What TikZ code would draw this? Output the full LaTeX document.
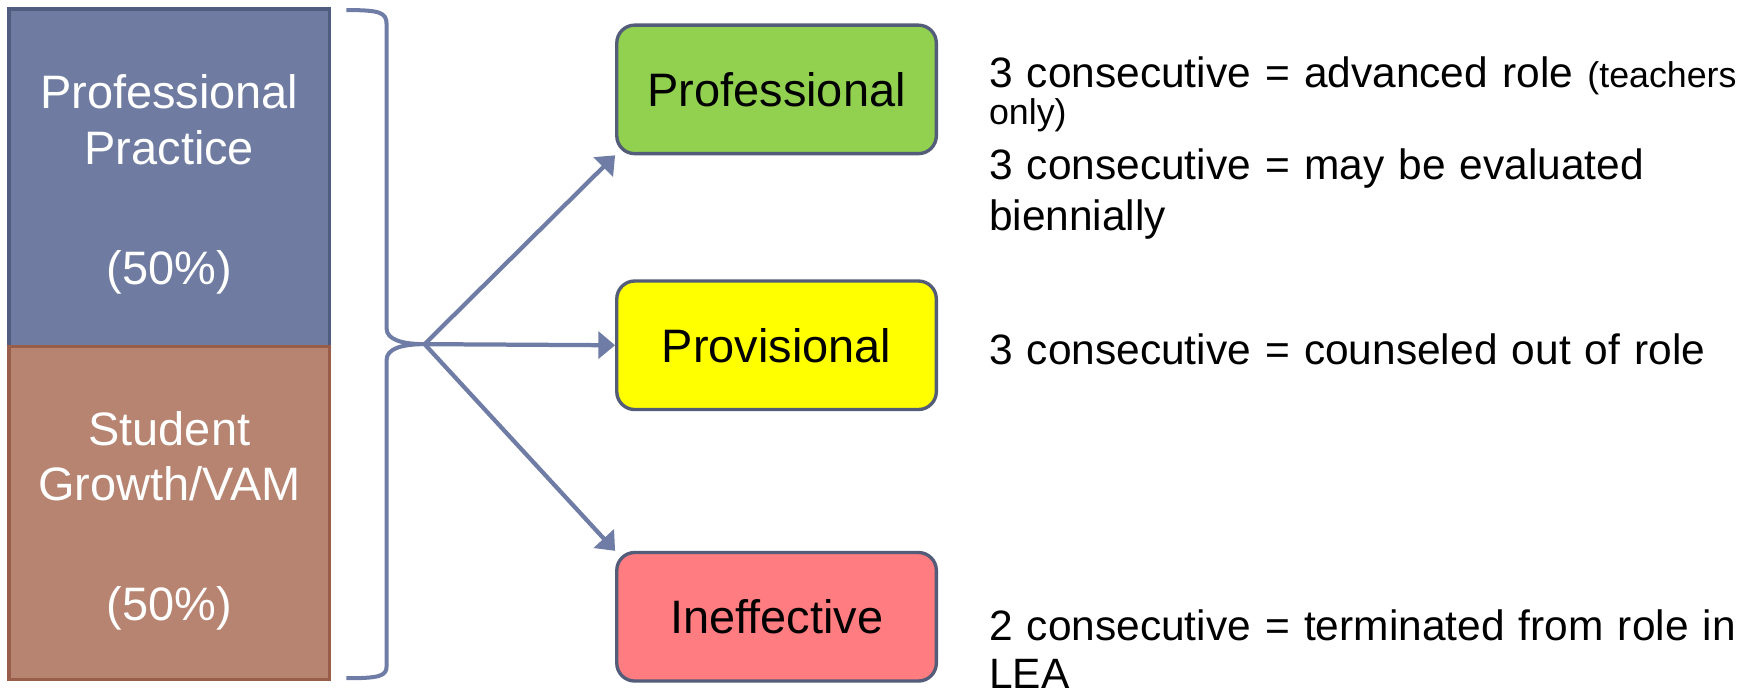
\documentclass[tikz,border=0pt]{standalone}
\usepackage{fontspec}
\setmainfont{Liberation Sans}
\usetikzlibrary{arrows.meta}
\definecolor{ppfill}{HTML}{6F7BA0}
\definecolor{ppedge}{HTML}{505C80}
\definecolor{sgfill}{HTML}{B68470}
\definecolor{sgedge}{HTML}{985E49}
\definecolor{boxedge}{HTML}{535C78}
\definecolor{linkblue}{HTML}{6F7CA5}
\definecolor{profgreen}{HTML}{92D050}
\definecolor{provyellow}{HTML}{FFFF00}
\definecolor{ineffred}{HTML}{FF7C80}
\begin{document}
\begin{tikzpicture}[x=1pt, y=-1pt,
    part/.style={rectangle, draw, line width=3pt, minimum width=287pt, inner sep=0pt},
    parttext/.style={text=white, align=center, inner sep=0pt, font=\fontsize{42}{50}\selectfont},
    rating/.style={rectangle, rounded corners=16pt, draw=boxedge, line width=3pt, minimum width=286pt, minimum height=115pt, font=\fontsize{42}{50}\selectfont},
    note/.style={anchor=base west, inner sep=0pt, text width=700pt, align=left, font=\fontsize{38}{45}\selectfont},
    link/.style={draw=linkblue, line width=3.8pt, -{Triangle[length=15pt,width=24pt]}}]
    \useasboundingbox (0,0) rectangle (1568,618);
    % weighting of the evaluation
    \node[part, fill=ppfill, draw=ppedge, minimum height=302pt] (pp) at (151.5,159) {};
    \node[part, fill=sgfill, draw=sgedge, minimum height=298pt] (sg) at (151.5,459) {};
    \node[parttext] (ppt) at ([yshift=-6pt]pp.center) {Professional\\Practice\\[57pt](50\%)};
    \node[parttext] (sgt) at ([yshift=-7pt]sg.center) {Student\\Growth/VAM\\[57pt](50\%)};
    % brace
    \draw[linkblue, line width=3.6pt] (310,9) .. controls (340,9) and (346,11) .. (346,22) -- (346,294)
        .. controls (346,304) and (360,308) .. (380,308)
        .. controls (360,308) and (346,312) .. (346,322) -- (346,596)
        .. controls (346,605) and (340,607) .. (310,607);
    \coordinate (tip) at (380,308);
    % ratings
    \node[rating, fill=profgreen] (prof) at (695,80) {Professional};
    \node[rating, fill=provyellow] (prov) at (695,309) {Provisional};
    \node[rating, fill=ineffred] (ineff) at (695,552) {Ineffective};
    \draw[link] (tip) -- (prof.south west);
    \draw[link] (tip) -- (prov.west);
    \draw[link] (tip) -- (ineff.north west);
    % consequences
    \node[note] (t0) at (885,78) {3 consecutive = advanced role {\fontsize{32}{33}\selectfont(teachers}\\[-12pt]{\fontsize{32}{33}\selectfont only)}\\[5pt]3 consecutive = may be evaluated\\biennially};
    \node[note] (t1) at (885,326) {3 consecutive = counseled out of role};
    \node[note] (t2) at (885,573) {2 consecutive = terminated from role in\\[-2pt]LEA};
\end{tikzpicture}
\end{document}
